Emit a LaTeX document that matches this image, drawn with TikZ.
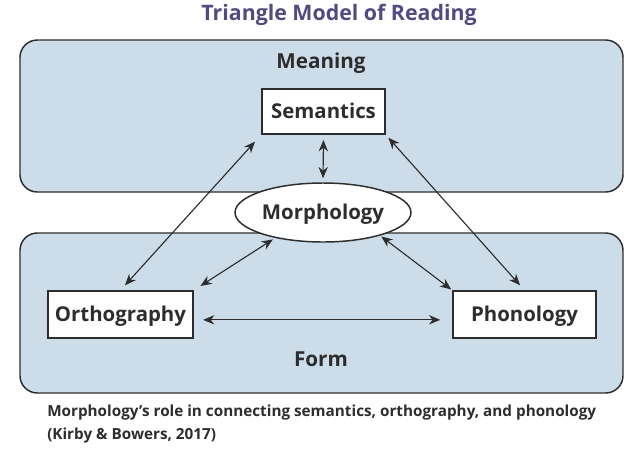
\documentclass[tikz,border=0pt]{standalone}
\usepackage{fontspec}
\setmainfont{Open Sans}
\usetikzlibrary{arrows.meta,shapes.geometric}
\definecolor{panel}{RGB}{204,221,233}
\definecolor{ink}{RGB}{45,45,45}
\definecolor{titlec}{RGB}{82,74,128}
\tikzset{
  panelbox/.style={draw=ink, line width=1.1pt, fill=panel, rounded corners=13pt, inner sep=0pt},
  labelbox/.style={draw=ink, line width=1.1pt, fill=white, inner sep=0pt, font=\fontsize{15.3}{17}\selectfont\bfseries, text=ink, text depth=0.5pt},
  regionlabel/.style={font=\fontsize{15.5}{17}\selectfont\bfseries, text=ink},
  arr/.style={{Stealth[length=8.5pt,width=7pt]}-{Stealth[length=8.5pt,width=7pt]}, line width=0.85pt, draw=ink},
}
\begin{document}
\begin{tikzpicture}[x=0.75pt,y=-0.75pt]
\useasboundingbox (0,0) rectangle (640,455);
\node[font=\fontsize{16}{19}\selectfont\bfseries, text=titlec] (title) at (339,15) {Triangle Model of Reading};
% panels
\node[panelbox, minimum width=603*0.75pt, minimum height=152*0.75pt] (meaningpanel) at (321.5,116) {};
\node[panelbox, minimum width=603*0.75pt, minimum height=160*0.75pt] (formpanel) at (321.5,313) {};
\node[regionlabel] (meaning) at (321,63) {Meaning};
\node[regionlabel] (form) at (321,359) {Form};
% nodes
\node[labelbox, minimum width=123*0.75pt, minimum height=45*0.75pt] (sem) at (323.5,111.5) {Semantics};
\node[labelbox, ellipse, minimum width=176*0.75pt, minimum height=59*0.75pt] (morph) at (323,212.5) {Morphology};
\node[labelbox, minimum width=145*0.75pt, minimum height=47*0.75pt] (orth) at (120.5,314.5) {Orthography};
\node[labelbox, minimum width=143*0.75pt, minimum height=47*0.75pt] (phon) at (524.5,314.5) {Phonology};
% connectors
\draw[arr, shorten <=7pt, shorten >=5pt] (sem.south west) -- (orth.north);
\draw[arr, shorten <=3pt, shorten >=5pt] (sem.south east) -- (phon.north);
\draw[arr, shorten <=4pt, shorten >=3pt] (sem.south) -- (morph.north);
\draw[arr, shorten <=2pt, shorten >=6pt] (morph.208) -- (orth.north east);
\draw[arr, shorten <=1pt, shorten >=1pt] (morph.338) -- (phon.north west);
\draw[arr, shorten <=7pt, shorten >=9pt] ([yshift=-4pt]orth.east) -- ([yshift=-4pt]phon.west);
% caption
\node[anchor=north west, align=left, inner sep=0pt, text=ink, font=\fontsize{11.45}{17.3}\selectfont\bfseries] (caption) at (47,405) {Morphology’s role in connecting semantics, orthography, and phonology\\(Kirby \& Bowers, 2017)};
\end{tikzpicture}
\end{document}
